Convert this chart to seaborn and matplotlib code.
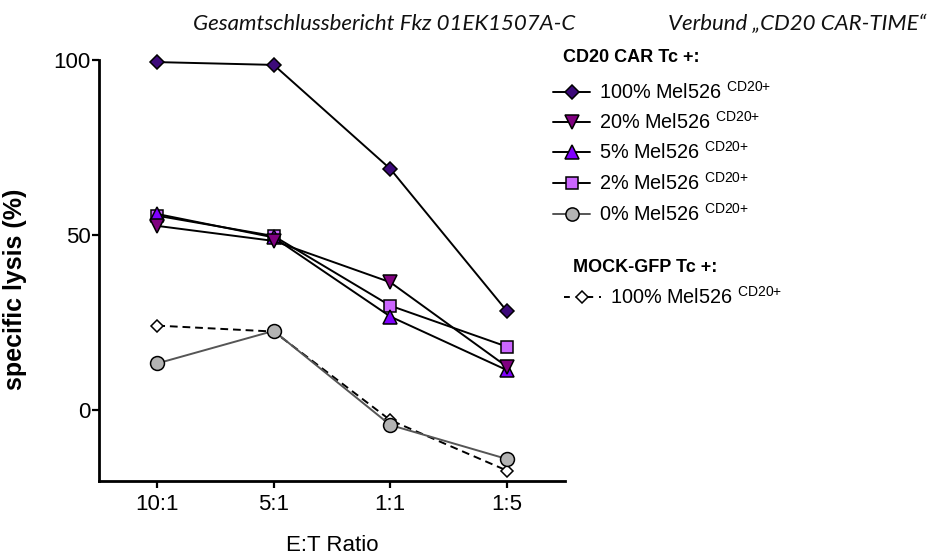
import matplotlib
matplotlib.use("Agg")
import matplotlib.pyplot as plt
from matplotlib.lines import Line2D
import seaborn as sns
import pandas as pd

sns.set_theme(style="white")
plt.rcParams['font.family'] = ['Liberation Sans', 'DejaVu Sans']
plt.rcParams['mathtext.fontset'] = 'custom'
plt.rcParams['mathtext.rm'] = 'Liberation Sans'

ratios = ["10:1", "5:1", "1:1", "1:5"]
car_100 = [99.4, 98.6, 68.9, 28.3]
car_20 = [52.6, 48.3, 36.5, 12.4]
car_5 = [56.0, 49.3, 26.7, 11.4]
car_2 = [55.5, 49.7, 29.8, 18.1]
car_0 = [13.3, 22.6, -4.3, -14.0]
mock_100 = [24.1, 22.4, -2.9, -17.3]

header_left = "Gesamtschlussbericht Fkz 01EK1507A-C"
header_right = "Verbund \u201eCD20 CAR-TIME\u201c"
legend_head_car = "CD20 CAR Tc +:"
legend_head_mock = "MOCK-GFP Tc +:"
car_labels = ["100% Mel526", "20% Mel526", "5% Mel526", "2% Mel526", "0% Mel526"]
mock_label = "100% Mel526"
sup_label = r" $^{\text{CD20+}}$"

series = [
    (car_100, dict(marker="D", ms=7.0, mfc="#3d0a7a", color="black", ls="-", lw=1.4)),
    (car_20, dict(marker="v", ms=10, mfc="#800080", color="black", ls="-", lw=1.4)),
    (car_5, dict(marker="^", ms=10, mfc="#8000ff", color="black", ls="-", lw=1.4)),
    (car_2, dict(marker="s", ms=9, mfc="#cc66ff", color="black", ls="-", lw=1.4)),
    (car_0, dict(marker="o", ms=10, mfc="#b3b3b3", color="#555555", ls="-", lw=1.4)),
]
mock_style = dict(marker="D", ms=6.0, mfc="white", color="black", ls=(0, (4, 2.5)), lw=1.4)

fig = plt.figure(figsize=(9.30, 5.59), dpi=100)
ax = fig.add_axes([99 / 930, 1 - 481 / 559, 466 / 930, 421 / 559])

def draw(vals, st):
    df = pd.DataFrame({"ratio": ratios, "lysis": vals})
    sns.lineplot(data=df, x="ratio", y="lysis", sort=False, ax=ax,
                 color=st["color"], linestyle=st["ls"], linewidth=st["lw"],
                 marker=st["marker"], markersize=st["ms"],
                 markerfacecolor=st["mfc"], markeredgecolor="black",
                 markeredgewidth=1.1, clip_on=False)

draw(mock_100, mock_style)
for vals, st in series[::-1]:
    draw(vals, st)

ax.set_xlim(-0.5, 3.5)
ax.set_ylim(-20.3, 100)
ax.set_yticks([0, 50, 100])
ax.set_xticks(range(len(ratios)))
ax.set_xticklabels(ratios)
for s in ["top", "right"]:
    ax.spines[s].set_visible(False)
for s in ["left", "bottom"]:
    ax.spines[s].set_linewidth(2.0)
    ax.spines[s].set_color("black")
ax.tick_params(axis="both", which="major", length=5, width=1.6, color="black",
               labelsize=16, labelcolor="black", direction="out", bottom=True, left=True)
ax.tick_params(axis="x", pad=4)
ax.tick_params(axis="y", pad=1)
ax.set_xlabel("E:T Ratio", fontsize=16, color="black", labelpad=15)
ax.set_ylabel("specific lysis (%)", fontsize=18, fontweight="bold", color="black")
ax.yaxis.set_label_coords(-0.155, 0.456)
ax.grid(False)
ax.set_facecolor("white")

# header
fig.text(193 / 930, 1 - 30 / 559, header_left, fontsize=16, style="italic",
         family=["Lato", "DejaVu Sans"], color="#111111", va="baseline")
fig.text(668 / 930, 1 - 30 / 559, header_right, fontsize=16, style="italic",
         family=["Lato", "DejaVu Sans"], color="#111111", va="baseline")

# legend (drawn manually)
W, H = 930, 559
fig.text(563 / W, 1 - 57 / H, legend_head_car, fontsize=13, fontweight="bold",
         color="black", va="center")
ys = [92, 122, 152, 183, 214]
for (vals, st), lab, y in zip(series, car_labels, ys):
    ln = Line2D([553 / W, 571.5 / W, 590 / W], [1 - y / H] * 3, transform=fig.transFigure,
                color=st["color"], lw=st["lw"], ls=st["ls"], marker=st["marker"],
                markersize=st["ms"] * 0.95, markerfacecolor=st["mfc"], markeredgecolor="black",
                markeredgewidth=1.1, markevery=[1])
    fig.add_artist(ln)
    fig.text(599 / W, 1 - y / H, lab + sup_label, fontsize=14.3, color="black",
             va="center")
fig.text(573 / W, 1 - 267 / H, legend_head_mock, fontsize=13, fontweight="bold",
         color="black", va="center")
y = 297
ln = Line2D([564 / W, 582 / W, 601 / W], [1 - y / H] * 3, transform=fig.transFigure,
            color="black", lw=1.4, ls=(0, (3, 3)), marker="D", markersize=6,
            markerfacecolor="white", markeredgecolor="black", markeredgewidth=1.1, markevery=[1])
fig.add_artist(ln)
fig.text(610 / W, 1 - y / H, mock_label + sup_label, fontsize=14.3, color="black",
         va="center")

fig.savefig("out.png", dpi=100, facecolor="white")
